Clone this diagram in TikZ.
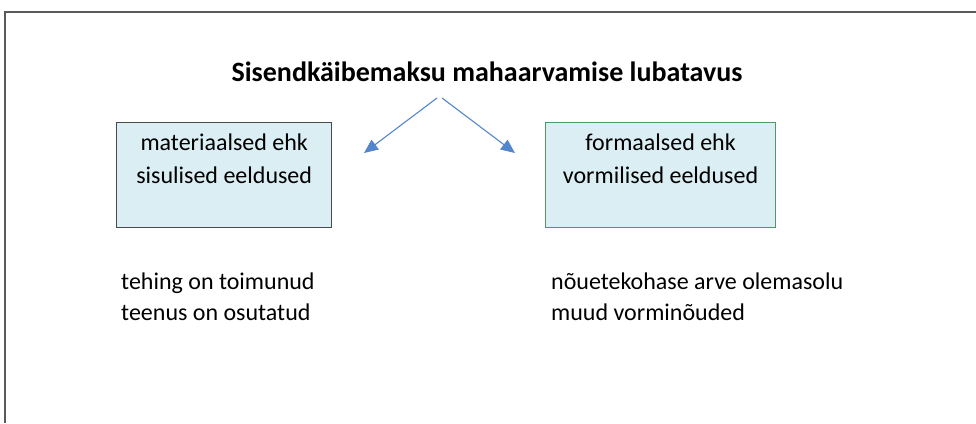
\documentclass[tikz,border=0pt]{standalone}
\usepackage{fontspec}
\setmainfont{Carlito}
\usetikzlibrary{arrows.meta}
\definecolor{boxfill}{HTML}{DAEEF3}
\definecolor{boxgray}{HTML}{4A4A4A}
\definecolor{boxgreen}{HTML}{4F9A63}
\definecolor{arrowblue}{HTML}{5585CC}
\definecolor{framegray}{HTML}{5A5A5A}
\tikzset{
  catbox/.style={draw, fill=boxfill, minimum width=215pt, minimum height=105pt, inner sep=0pt, anchor=north west},
  boxtext/.style={font=\fontsize{24}{33}\selectfont, align=center, anchor=north},
  listtext/.style={font=\fontsize{24}{31}\selectfont, align=left, anchor=north west, inner sep=0pt},
  branch/.style={draw=arrowblue, line width=1.1pt, -{Triangle[length=14pt, width=12pt]}},
}
\begin{document}
\begin{tikzpicture}[x=1pt, y=1pt]
\useasboundingbox (0,0) rectangle (976,-423);
\draw[framegray, line width=1.8pt] (976,-12) -- (5,-12) -- (5,-423);
\node[font=\bfseries\fontsize{28}{34}\selectfont, anchor=base] (title) at (487,-81) {Sisendkäibemaksu mahaarvamise lubatavus};
\coordinate (lstart) at (437,-98);
\coordinate (rstart) at (442,-98);
\node[catbox, draw=boxgray, line width=1.4pt] (left) at (116,-122) {};
\node[catbox, draw=boxgreen, line width=1.1pt, minimum width=230pt] (right) at (545,-122) {};
\node[boxtext] (ltext) at ([yshift=-8pt]left.north) {materiaalsed ehk\\sisulised eeldused};
\node[boxtext] (rtext) at ([yshift=-8pt]right.north) {formaalsed ehk\\vormilised eeldused};
\coordinate (ltip) at (364,-153);
\coordinate (rtip) at (515,-153);
\draw[branch] (lstart) -- (ltip);
\draw[branch] (rstart) -- (rtip);
\node[listtext] (llist) at (121,-273) {tehing on toimunud\\teenus on osutatud};
\node[listtext] (rlist) at (551,-273) {nõuetekohase arve olemasolu\\muud vorminõuded};
\end{tikzpicture}
\end{document}
